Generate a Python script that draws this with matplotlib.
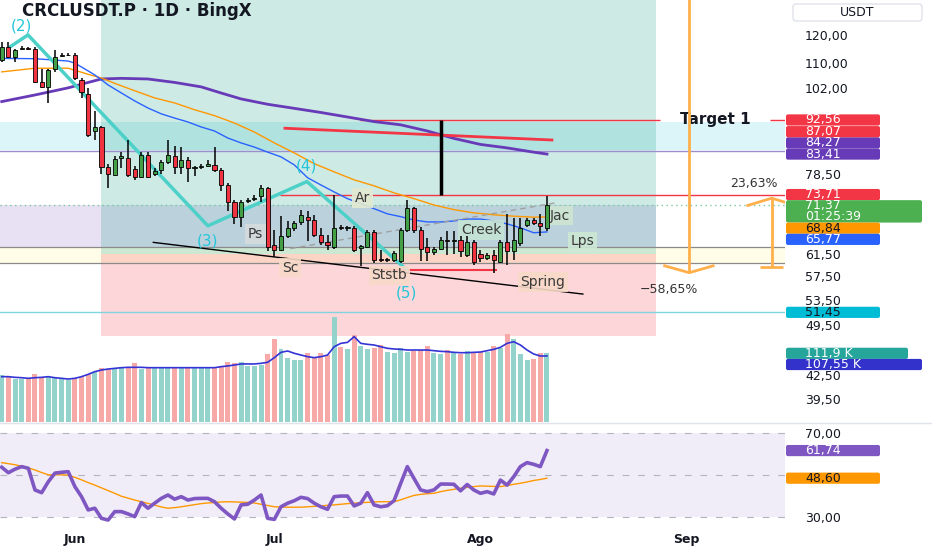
import numpy as np
import matplotlib
matplotlib.use('Agg')
import matplotlib.pyplot as plt
from matplotlib.patches import Rectangle, FancyBboxPatch
from matplotlib.lines import Line2D
from matplotlib.transforms import IdentityTransform
from matplotlib.ticker import NullFormatter

# daily candles, index 0 = 21 May
opens = [111.0, 115.6, 112.3, 114.9, 115.3, 115.0, 104.0, 102.5, 108.3, 112.5,
         112.7, 112.8, 104.6, 100.2, 89.4, 90.6, 80.2, 78.2, 82.3, 82.3,
         79.8, 77.8, 83.2, 78.6, 79.5, 81.5, 82.8, 80.2, 81.9, 80.0,
         80.3, 80.5, 80.7, 79.5, 75.9, 72.1, 68.8, 72.2, 72.7, 73.3,
         75.2, 63.2, 62.3, 65.0, 66.6, 67.7, 68.9, 68.2, 65.2, 63.8,
         62.9, 66.7, 66.5, 66.6, 62.7, 62.9, 65.8, 60.6, 60.3, 60.4,
         60.2, 66.2, 70.7, 66.2, 62.9, 61.9, 62.5, 64.2, 63.9, 64.2,
         61.3, 63.8, 61.5, 60.8, 61.3, 60.0, 63.8, 62.0, 63.5, 67.2,
         68.2, 67.6, 66.6]
highs = [117.3, 117.5, 115.0, 116.0, 115.8, 115.5, 108.0, 108.3, 114.6, 113.5,
         113.5, 113.5, 105.2, 102.0, 95.0, 91.0, 81.0, 83.0, 84.0, 87.1,
         80.5, 84.0, 84.0, 80.0, 82.0, 87.1, 85.5, 85.3, 82.6, 80.5,
         80.8, 82.0, 85.3, 80.0, 76.3, 72.5, 72.5, 73.0, 73.5, 75.8,
         75.5, 66.2, 69.0, 68.0, 67.9, 70.4, 70.0, 69.3, 66.5, 65.2,
         73.7, 67.2, 67.0, 67.0, 63.2, 66.2, 66.2, 62.3, 60.8, 62.0,
         66.6, 72.5, 71.0, 66.8, 64.5, 62.8, 64.8, 66.0, 66.0, 65.0,
         65.0, 64.2, 62.2, 61.6, 62.3, 64.2, 69.5, 68.6, 68.6, 68.6,
         68.6, 69.5, 73.3]
lows = [110.5, 112.0, 110.5, 114.5, 114.6, 103.5, 102.0, 97.5, 107.3, 112.3,
        112.4, 104.5, 98.9, 87.9, 87.1, 78.4, 75.2, 78.0, 80.0, 77.8,
        77.1, 77.5, 77.5, 78.0, 78.6, 81.0, 78.4, 78.4, 76.7, 78.0,
        79.8, 80.2, 79.0, 74.6, 70.0, 67.4, 66.8, 71.8, 72.3, 72.0,
        62.0, 61.0, 62.0, 64.5, 66.0, 67.2, 64.0, 64.8, 63.2, 62.3,
        62.5, 66.2, 66.0, 61.9, 59.2, 62.6, 59.8, 60.0, 60.0, 60.0,
        59.8, 65.8, 65.5, 60.1, 60.2, 61.2, 62.2, 61.3, 61.5, 61.0,
        61.0, 59.5, 60.0, 60.3, 58.0, 59.8, 59.4, 60.4, 63.0, 66.8,
        67.2, 64.9, 66.0]
closes = [115.6, 112.3, 114.6, 115.2, 115.0, 104.0, 102.5, 107.8, 112.3, 112.9,
          113.0, 105.1, 100.9, 88.4, 90.6, 80.2, 78.6, 82.2, 82.8, 78.2,
          77.8, 83.2, 77.8, 79.3, 81.5, 83.2, 80.2, 81.9, 80.0, 80.3,
          80.5, 80.8, 79.5, 75.8, 72.1, 68.8, 72.1, 72.5, 73.0, 75.2,
          62.9, 62.3, 64.9, 66.6, 67.6, 69.3, 68.2, 65.2, 63.8, 63.2,
          66.6, 66.5, 66.7, 62.3, 63.0, 65.8, 60.4, 60.4, 60.5, 61.7,
          66.2, 70.7, 66.2, 62.5, 61.9, 62.5, 64.2, 64.0, 64.1, 62.0,
          63.8, 60.0, 60.8, 61.3, 60.4, 63.8, 62.0, 64.2, 66.6, 68.2,
          67.6, 66.9, 71.37]

# volume in thousands and its moving average
volume_k = [76.4, 73.6, 69.8, 69.8, 71.0, 77.5, 73.6, 73.6, 72.0, 69.8,
            68.2, 71.0, 73.6, 77.5, 81.8, 87.3, 86.2, 88.4, 88.4, 89.0,
            95.5, 86.2, 87.3, 88.4, 87.3, 87.3, 87.3, 88.4, 88.4, 88.4,
            88.4, 87.3, 87.3, 91.1, 97.1, 95.5, 98.2, 91.1, 91.1, 92.8,
            110.3, 134.8, 118.4, 103.7, 101.0, 101.0, 111.9, 106.4, 111.9, 109.1,
            171.8, 122.7, 118.4, 141.8, 123.8, 118.4, 121.1, 125.5, 114.6, 112.9,
            121.1, 114.6, 116.2, 117.3, 123.8, 111.9, 110.3, 117.3, 114.6, 110.3,
            115.7, 114.6, 114.6, 114.6, 124.4, 121.1, 143.4, 135.3, 110.3, 101.0,
            102.6, 112.9, 111.9]
volume_ma_k = [73.7, 73.7, 72.6, 72.0, 71.0, 72.0, 72.6, 73.7, 72.0, 71.0,
               69.8, 71.0, 73.7, 77.5, 81.9, 84.6, 86.2, 87.3, 88.4, 89.0,
               89.0, 89.0, 88.4, 88.4, 88.4, 88.4, 88.4, 88.4, 88.4, 88.4,
               88.4, 88.4, 88.4, 90.1, 91.2, 92.8, 94.5, 94.5, 94.5, 95.5,
               97.2, 104.8, 113.5, 115.7, 111.9, 109.1, 106.4, 104.8, 106.4, 109.1,
               122.7, 128.2, 129.8, 139.1, 128.2, 126.6, 125.5, 122.7, 120.1, 119.0,
               118.4, 117.3, 117.3, 117.3, 117.3, 116.2, 115.1, 114.6, 113.5, 112.9,
               112.9, 113.5, 114.0, 116.2, 118.4, 121.7, 128.2, 130.9, 125.5, 117.3,
               110.8, 107.5, 107.55]

rsi = [53.8, 51.2, 52.9, 54.1, 53.3, 43.0, 41.7, 46.9, 51.0, 51.4,
       51.7, 44.6, 39.8, 33.5, 34.3, 29.5, 28.7, 32.7, 32.7, 31.6,
       30.3, 37.0, 34.3, 36.7, 39.0, 40.6, 38.6, 39.8, 38.2, 38.9,
       39.0, 39.0, 37.4, 34.3, 31.6, 29.2, 35.9, 36.2, 38.2, 40.6,
       29.5, 29.0, 35.0, 36.7, 37.9, 39.5, 38.9, 36.7, 35.0, 33.8,
       39.8, 40.1, 40.1, 35.4, 36.7, 41.7, 35.9, 35.0, 35.5, 37.9,
       46.1, 54.1, 48.5, 43.0, 42.2, 43.0, 45.8, 45.8, 45.7, 42.6,
       45.6, 43.0, 41.4, 42.2, 41.1, 47.7, 45.3, 49.3, 54.1, 56.0,
       55.2, 54.1, 61.74]
rsi_ma = [56.0, 55.5, 55.0, 54.3, 53.5, 52.5, 51.3, 50.2, 50.2, 50.2,
          50.0, 49.0, 47.8, 46.5, 45.3, 44.0, 42.7, 41.4, 40.0, 39.1,
          38.2, 37.4, 36.6, 35.8, 34.9, 34.3, 34.6, 35.0, 35.5, 36.0,
          36.5, 36.8, 37.0, 37.3, 37.4, 37.3, 37.2, 37.1, 36.8, 36.2,
          35.6, 35.0, 34.9, 34.8, 34.8, 34.8, 35.0, 35.2, 35.4, 35.7,
          35.9, 36.2, 36.5, 36.7, 36.9, 37.1, 37.3, 37.4, 37.4, 37.4,
          38.3, 39.4, 40.4, 40.9, 41.2, 41.4, 42.2, 42.8, 43.3, 43.8,
          44.2, 44.6, 44.9, 44.8, 44.7, 44.6, 45.1, 45.7, 46.2, 46.8,
          47.5, 48.0, 48.60]

# price moving averages (candle index, value)
blue_idx = [0, 5, 10, 11, 12, 13, 14, 15, 16, 18, 20, 22, 24, 26, 28, 30, 32, 34, 36, 38,
            40, 42, 44, 46, 48, 50, 52, 54, 56, 58, 60, 62, 64, 66, 68, 70, 72, 74, 76, 78, 80, 82]
blue_ma = [111.7, 111.6, 110.8, 110.1, 108.8, 107.5, 106.2, 104.6, 103.0, 100.5, 98.1, 96.0,
           94.3, 93.1, 92.0, 90.6, 89.5, 87.6, 86.3, 85.2, 83.9, 82.7, 80.7, 77.6, 75.9, 74.3,
           72.8, 71.7, 70.6, 69.5, 68.9, 68.2, 67.8, 67.8, 68.0, 68.4, 68.4, 68.0, 67.4, 66.6,
           65.6, 65.77]
orange_idx = [0, 5, 10, 13, 15, 17, 20, 23, 26, 29, 32, 35, 38, 41, 44, 47, 50, 53, 56, 59,
              62, 65, 68, 71, 74, 77, 80, 82]
orange_ma = [107.2, 108.4, 108.4, 106.4, 105.2, 103.5, 101.2, 99.0, 97.5, 95.5, 93.8, 91.7,
             89.2, 86.3, 83.7, 81.0, 79.0, 77.1, 75.7, 74.1, 72.8, 71.4, 70.4, 69.7, 69.3,
             69.0, 68.8, 68.84]
purple_idx = [0, 5, 10, 13, 15, 18, 22, 26, 30, 33, 36, 40, 44, 48, 52, 56, 60, 64, 68, 72,
              76, 80, 82]
purple_ma = [97.9, 99.9, 102.1, 103.8, 104.9, 105.1, 104.9, 103.8, 102.4, 100.5, 98.7, 97.1,
             95.9, 94.7, 93.4, 92.1, 91.2, 89.5, 87.5, 85.9, 85.0, 83.9, 83.41]

# drawings
wave_x = [1.25, 3.95, 31.0, 45.9, 60.9]
wave_y = [115.7, 120.0, 67.0, 76.7, 58.6]
wave_labels = ['(2)', '(3)', '(4)', '(5)']
wave_label_x = [3.0, 31.0, 45.9, 60.8]
wave_label_y = [123.5, 64.0, 80.4, 54.6]

wyckoff_labels = ['Ps', 'Sc', 'Ar', 'Ststb', 'Creek', 'Spring', 'Jac', 'Lps']
wyckoff_x = [38.2, 43.4, 54.3, 58.3, 72.1, 81.4, 84.0, 87.3]
wyckoff_y = [65.4, 58.97, 73.0, 57.6, 66.2, 56.4, 69.1, 63.9]
wyckoff_bg = ['#d5dcdb', '#f7d9c8', '#e3ead2', '#f7d9c8', '#c5e3d3', '#f7d9c8', '#cfe6d2', '#cde8d5']

box_left, box_right = 14.93, 98.4
entry, stop_level, target_top = 61.5, 47.8, 140.4
target_1 = 92.56
ar_level = 73.71
trend_end = 87.07
band_line = 84.27
support_line = 51.45
last_price = 71.37

date_ticks = [11, 41, 72, 103]
date_labels = ['Jun', 'Jul', 'Ago', 'Sep']
price_ticks = [120, 110, 102, 78.5, 61.5, 57.5, 53.5, 49.5, 42.5, 39.5]
rsi_ticks = [70, 30]


def fmt(v):
    return f"{v:.2f}".replace('.', ',')


W, H = 932, 550
fig = plt.figure(figsize=(W / 100, H / 100), dpi=100)
fig.patch.set_facecolor('white')

ax = fig.add_axes([0, 127 / H, 785 / W, 423 / H])
vax = fig.add_axes([0, 127 / H, 785 / W, 423 / H], sharex=ax)
rax = fig.add_axes([0, 20 / H, 785 / W, 103 / H], sharex=ax)

ax.set_yscale('log')
ax.set_ylim(36.7, 133.5)
ax.set_xlim(-0.26, 117.8)
vax.set_ylim(-2.1, 689.9)
rax.set_ylim(23.95, 72.95)

for a in (ax, vax, rax):
    for s in a.spines.values():
        s.set_visible(False)
    a.patch.set_visible(False)

idx = np.arange(len(opens))
o = np.array(opens); hi = np.array(highs); lo = np.array(lows); c = np.array(closes)
up = c >= o

# background bands and position box
ax.axhspan(84.5, 92.1, color='#00bcd4', alpha=0.14, lw=0, zorder=1)
ax.add_patch(Rectangle((-1, 62.9), box_right + 1, 71.3 - 62.9, fc='#673ab7', alpha=0.15, lw=0, zorder=1))
ax.axhspan(59.8, 62.9, color='#ffeb3b', alpha=0.12, lw=0, zorder=1)
ax.axhline(62.9, color='#8a8a8a', lw=0.9, zorder=2)
ax.axhline(59.8, color='#8a8a8a', lw=0.9, zorder=2)
ax.add_patch(Rectangle((box_left, entry), box_right - box_left, target_top - entry,
                       fc=(8 / 255, 153 / 255, 129 / 255, 0.2), lw=0, zorder=1))
ax.add_patch(Rectangle((box_left, stop_level), box_right - box_left, entry - stop_level,
                       fc=(242 / 255, 54 / 255, 69 / 255, 0.2), lw=0, zorder=1))

# horizontal levels
ax.axhline(band_line, color='#9b8fcf', lw=1, zorder=2)
ax.axhline(support_line, color='#7fd4dd', lw=1, zorder=2)
ax.axhline(last_price, color='#7cc89a', lw=1, ls=(0, (1, 2.5)), zorder=2)
ax.hlines(ar_level, 41.9, 117.8, color='#f23645', lw=1, zorder=2)
ax.hlines(target_1, 53.9, 99.0, color='#f23645', lw=1, zorder=2)
ax.hlines(target_1, 115.6, 117.8, color='#f23645', lw=1, zorder=2)
ax.text(107.3, target_1, 'Target 1', fontsize=11, fontweight='bold', color='#131722',
        ha='center', va='center', zorder=3)

# moving averages
ax.plot(purple_idx, purple_ma, color='#673ab7', lw=2, zorder=4)
ax.plot(orange_idx, orange_ma, color='#ff9800', lw=1, zorder=4)
ax.plot(blue_idx, blue_ma, color='#2962ff', lw=1, zorder=4)

# trend lines
ax.plot([42.6, 82.75], [90.25, trend_end], color='#f23645', lw=2, zorder=4)
ax.vlines(66.1, ar_level, target_1, color='black', lw=2.5, zorder=4)
ax.plot([22.8, 87.4], [63.7, 54.4], color='black', lw=1, zorder=4)
ax.hlines(58.6, 57.0, 74.5, color='#f23645', lw=1.5, zorder=4)
ax.plot([43.4, 83.4], [62.5, 71.9], color='#a0a0a0', lw=1, ls=(0, (4, 3)), zorder=4)

# elliott wave
ax.plot(wave_x, wave_y, color='#4dd0c8', lw=2.5, zorder=5, solid_capstyle='round')
for s, x, y in zip(wave_labels, wave_label_x, wave_label_y):
    ax.text(x, y, s, fontsize=11, color='#26c6da', ha='center', va='center', zorder=5)

# wyckoff labels
for s, x, y, bg in zip(wyckoff_labels, wyckoff_x, wyckoff_y, wyckoff_bg):
    ax.text(x, y, s, fontsize=10, color='#3a3a3a', ha='center', va='center', zorder=5,
            bbox=dict(boxstyle='square,pad=0.2', fc=bg, ec='none', alpha=0.9))

# candles
ax.vlines(idx, lo, hi, color='black', lw=1.1, zorder=6)
ax.bar(idx, np.abs(c - o), bottom=np.minimum(o, c), width=0.62,
       color=np.where(up, '#43a047', '#ef3340'), edgecolor='black', lw=0.6, zorder=7)

# measuring arrows
arrow_col = '#ffb04a'
ax.vlines(103.4, 58.07, target_top, color=arrow_col, lw=2, zorder=5)
ax.plot([99.7, 103.4, 107.0], [59.3, 58.07, 59.3], color=arrow_col, lw=2, zorder=5)
ax.vlines(115.8, 59.0, 72.9, color=arrow_col, lw=2, zorder=5)
ax.plot([112.2, 115.8, 119.4], [71.3, 72.9, 71.3], color=arrow_col, lw=2, zorder=5, clip_on=True)
ax.hlines(59.0, 114.1, 117.5, color=arrow_col, lw=2, zorder=5)
ax.text(96.0, 55.1, '\u221258,65%', fontsize=9, color='#333333', ha='left', va='center', zorder=5)
ax.text(109.5, 76.2, '23,63%', fontsize=9, color='#333333', ha='left', va='center',
        zorder=5, clip_on=True)

# price axis
ax.yaxis.tick_right()
ax.set_yticks(price_ticks)
ax.set_yticks([], minor=True)
ax.yaxis.set_minor_formatter(NullFormatter())
ax.set_yticklabels([fmt(v) for v in price_ticks])
ax.tick_params(axis='y', length=0, pad=14.4, labelsize=9, labelcolor='#131722')
ax.tick_params(axis='x', bottom=False, labelbottom=False)

# volume
vax.bar(idx, volume_k, width=0.75, color=np.where(up, '#93d3cc', '#f6a9a7'), zorder=2)
vax.plot(idx, volume_ma_k, color='#3434d6', lw=1.2, zorder=3)
vax.axis('off')

# rsi pane
rax.axhspan(30, 70, color='#7e57c2', alpha=0.1, lw=0)
for v in (70, 50, 30):
    rax.axhline(v, color='#b2b5be', lw=0.8, ls=(0, (6, 8)))
rax.plot(idx, rsi_ma, color='#ff9800', lw=1, zorder=3)
rax.plot(idx, rsi, color='#7e57c2', lw=2.6, zorder=4, solid_joinstyle='round')
rax.yaxis.tick_right()
rax.set_yticks(rsi_ticks)
rax.set_yticklabels([fmt(v) for v in rsi_ticks])
rax.tick_params(axis='y', length=0, pad=14.4, labelsize=9, labelcolor='#131722')
rax.set_xticks(date_ticks)
rax.set_xticklabels(date_labels, fontsize=9, fontweight='bold', color='#131722')
rax.tick_params(axis='x', length=0, pad=2.5)

fig.add_artist(Line2D([0, 1], [1 - 423 / H] * 2, transform=fig.transFigure, color='#e0e3eb', lw=1))

# title and scale header
fig.text(22, H - 11, 'CRCLUSDT.P \u00b7 1D \u00b7 BingX', transform=IdentityTransform(),
         fontsize=12, fontweight='bold', color='#131722', va='center', ha='left')
fig.add_artist(FancyBboxPatch((793, H - 21), 129, 17, boxstyle='round,pad=0,rounding_size=3',
                              transform=IdentityTransform(), fc='white', ec='#e0e3eb', lw=1))
fig.text(857, H - 12.5, 'USDT', transform=IdentityTransform(), fontsize=9,
         color='#131722', ha='center', va='center')

# price tags
TAG_H = 11.2


def py(axis, v):
    return axis.transData.transform((0, v))[1]


def draw_tag(yc, label, color, tcolor='white', sub=None):
    n = max(len(label), len(sub or ''))
    w = 24 + 14 * n
    h = TAG_H * (2 if sub else 1)
    top = yc + TAG_H / 2
    fig.add_artist(FancyBboxPatch((786, top - h), w, h, boxstyle='round,pad=0,rounding_size=2',
                                  transform=IdentityTransform(), fc=color, ec='none'))
    fig.text(805, yc, label, transform=IdentityTransform(), fontsize=9, color=tcolor,
             ha='left', va='center')
    if sub:
        fig.text(805, yc - TAG_H, sub, transform=IdentityTransform(), fontsize=9,
                 color=tcolor, ha='left', va='center')


def stack_down(ys, ns):
    out, edge = [], None
    for y, n in zip(ys, ns):
        if edge is not None and y + TAG_H / 2 > edge:
            y = edge - TAG_H / 2
        edge = y + TAG_H / 2 - n * TAG_H
        out.append(y)
    return out


def stack_up(ys):
    out, edge = [], None
    for y in ys:
        if edge is not None and y - TAG_H / 2 < edge:
            y = edge + TAG_H / 2
        edge = y + TAG_H / 2
        out.append(y)
    return out


upper_vals = [purple_ma[-1], band_line, trend_end, target_1]
upper_cols = ['#673ab7', '#673ab7', '#f23645', '#f23645']
for y, v, col in zip(stack_up([py(ax, v) for v in upper_vals]), upper_vals, upper_cols):
    draw_tag(y, fmt(v), col)

lower_vals = [ar_level, last_price, orange_ma[-1], blue_ma[-1]]
lower_ys = stack_down([py(ax, v) for v in lower_vals], [1, 2, 1, 1])
draw_tag(lower_ys[0], fmt(ar_level), '#f23645')
draw_tag(lower_ys[1], fmt(last_price), '#4caf50', sub='01:25:39')
draw_tag(lower_ys[2], fmt(orange_ma[-1]), '#ff9800', tcolor='#131722')
draw_tag(lower_ys[3], fmt(blue_ma[-1]), '#2962ff')

draw_tag(py(ax, support_line), fmt(support_line), '#00bcd4', tcolor='#131722')

vol_ys = stack_down([py(vax, volume_k[-1]), py(vax, volume_ma_k[-1])], [1, 1])
draw_tag(vol_ys[0], '111,9 K', '#26a69a')
draw_tag(vol_ys[1], '107,55 K', '#3333cc')

draw_tag(py(rax, rsi[-1]), fmt(rsi[-1]), '#7e57c2')
draw_tag(py(rax, rsi_ma[-1]), fmt(rsi_ma[-1]), '#ff9800', tcolor='#131722')

fig.savefig('out.png', dpi=100, facecolor='white')
plt.close(fig)
